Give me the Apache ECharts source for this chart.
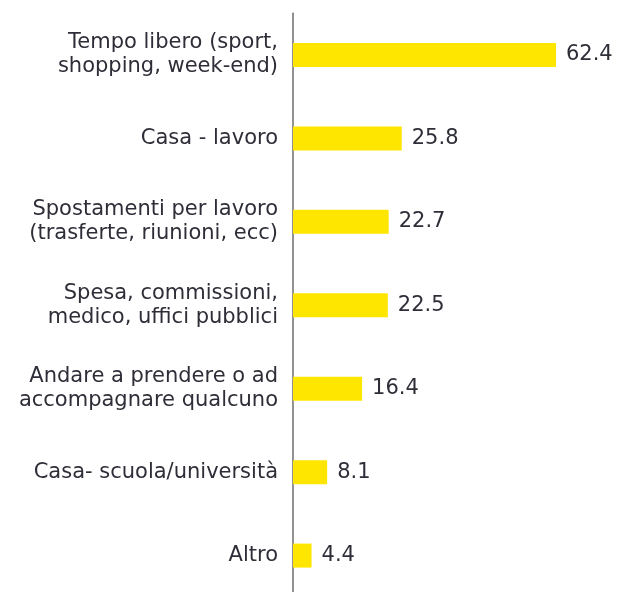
<!DOCTYPE html>
<html><head><meta charset="utf-8">
<script src="https://cdn.jsdelivr.net/npm/echarts@6/dist/echarts.min.js"></script>
<style>html,body{margin:0;padding:0;background:#fff;overflow:hidden}#c{width:619px;height:610px}</style>
</head><body><div id="c"></div>
<script>
const categories = [
  "Tempo libero (sport,\nshopping, week-end)",
  "Casa - lavoro",
  "Spostamenti per lavoro\n(trasferte, riunioni, ecc)",
  "Spesa, commissioni,\nmedico, uffici pubblici",
  "Andare a prendere o ad\naccompagnare qualcuno",
  "Casa- scuola/università",
  "Altro"
];
const values = [62.4, 25.8, 22.7, 22.5, 16.4, 8.1, 4.4];

const chart = echarts.init(document.getElementById('c'), null, {renderer: 'canvas'});
chart.setOption({
  animation: false,
  grid: {left: 293, top: 13.3, width: 295, height: 584, containLabel: false},
  xAxis: {type: 'value', min: 0, max: 70, show: false},
  yAxis: {
    type: 'category', data: categories, inverse: true,
    axisLine: {show: true, lineStyle: {color: '#6e6e6e', width: 1.5}},
    axisTick: {show: false},
    axisLabel: {color: '#2e2e38', fontSize: 21, fontFamily: 'DejaVu Sans', lineHeight: 24, margin: 15, align: 'right'}
  },
  series: [{
    type: 'bar', data: values, barWidth: 24,
    itemStyle: {color: '#FFE600'},
    label: {show: true, position: 'right', distance: 10, color: '#2e2e38', fontSize: 21, fontFamily: 'DejaVu Sans',
      formatter: p => p.value.toFixed(1)}
  }]
});
</script></body></html>
